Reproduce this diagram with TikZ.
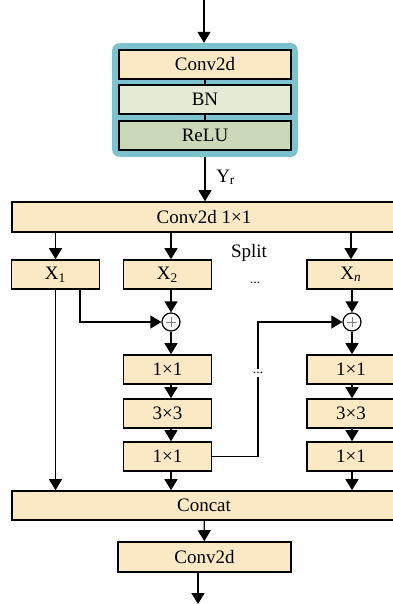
\documentclass[tikz,border=0pt]{standalone}
\usepackage{fontspec}
\setmainfont{Liberation Serif}
\usetikzlibrary{arrows.meta,fit,backgrounds}

\definecolor{boxfill}{HTML}{FBE8C5}
\definecolor{bnfill}{HTML}{E3EAD6}
\definecolor{relufill}{HTML}{CCD9B9}
\definecolor{tealbox}{HTML}{7EC2D0}

\begin{document}
\begin{tikzpicture}[x=0.5pt,y=-0.5pt,
		every node/.style={font=\fontsize{9.5}{11}\selectfont},
		blk/.style={draw, line width=0.8pt, fill=boxfill, minimum height=14.5pt, inner sep=0pt},
		small/.style={blk, minimum width=44pt},
		arr/.style={line width=0.6pt, -{Triangle[width=6.5pt,length=5.5pt]}},
		sum/.style={draw, circle, line width=0.6pt, fill=white, minimum size=9pt, inner sep=0pt}]
	\useasboundingbox (0,0) rectangle (392,604);

	% conv block on top
	\node[blk, minimum width=86pt] (cv) at (205,64.5) {Conv2d};
	\node[blk, minimum width=86pt, fill=bnfill] (bn) at (205,99.5) {BN};
	\node[blk, minimum width=86pt, fill=relufill] (relu) at (205,135.5) {ReLU};
	\begin{scope}[on background layer]
		\node[fit=(cv)(relu), inner sep=3pt, fill=tealbox, rounded corners=3.5pt] (outer) {};
	\end{scope}
	\draw[line width=0.6pt] (cv) -- (bn);
	\draw[line width=0.6pt] (bn) -- (relu);

	% split
	\node[blk, minimum width=192pt, minimum height=15pt] (c11) at (204,217) {Conv2d 1\texttimes1};
	\node[small] (x1) at (55.5,274.5) {X\textsubscript{1}};
	\node[small] (x2) at (167.5,274.5) {X\textsubscript{2}};
	\node[small] (xn) at (351,274.5) {X\textsubscript{\textit{n}}};
	\node (split) at (249,253) {Split};
	\node[font=\fontsize{7}{8}\selectfont] (dots) at (255,283) {...};

	\node[sum] (p2) at (171,322) {};
	\node[sum] (pn) at (352,322) {};
	\foreach \p in {p2,pn}
		\draw[gray, line width=0.4pt] ([xshift=-2.7pt]\p.center) -- ([xshift=2.7pt]\p.center)
			([yshift=-2.7pt]\p.center) -- ([yshift=2.7pt]\p.center);

	% branches
	\node[small] (a2) at (167.5,369.5) {1\texttimes1};
	\node[small] (b2) at (167.5,413.5) {3\texttimes3};
	\node[small] (e2) at (167.5,456.5) {1\texttimes1};
	\node[small] (an) at (351,369.5) {1\texttimes1};
	\node[small] (bn2) at (351,413.5) {3\texttimes3};
	\node[small] (en) at (351,456.5) {1\texttimes1};

	\node[blk, minimum width=192pt] (cat) at (204,505.5) {Concat};
	\node[blk, minimum width=86.5pt, minimum height=15pt] (cv2) at (204.5,557) {Conv2d};

	\coordinate (top) at (204,0);
	\coordinate (out) at (198,604);
	\coordinate (jn) at (258,456.5);

	% connectors
	\draw[arr] (top) -- (top |- outer.north);
	\draw[arr] (outer.south) -- node[right=2pt, pos=0.45] {Y\textsubscript{r}} (outer.south |- c11.north);
	\draw[arr] (x1 |- c11.south) -- (x1);
	\draw[arr] (c11.south -| p2) -- (x2.north -| p2);
	\draw[arr] (xn |- c11.south) -- (xn);

	\draw[arr] (x2.south -| p2) -- (p2);
	\draw[arr] (xn.south -| pn) -- (pn);
	\draw[arr] ([xshift=12.25pt]x1.south) |- (p2);
	\draw[arr] (p2) -- (a2.north -| p2);
	\draw[arr] (pn) -- (an.north -| pn);
	\draw[arr] (a2.south -| p2) -- (b2.north -| p2);
	\draw[arr] (b2.south -| p2) -- (e2.north -| p2);
	\draw[arr] (an.south -| pn) -- (bn2.north -| pn);
	\draw[arr] (bn2.south -| pn) -- (en.north -| pn);
	\draw[arr] (e2.east) -- (jn) -- node[pos=0.62, fill=white, inner sep=1.5pt, font=\fontsize{7}{8}\selectfont] {...} (jn |- pn) -- (pn);

	\draw[arr] (x1) -- (x1 |- cat.north);
	\draw[arr] (e2.south -| p2) -- (cat.north -| p2);
	\draw[arr] (en.south -| pn) -- (cat.north -| pn);
	\draw[arr] (cat) -- (cv2);
	\draw[arr] (cv2.south -| out) -- (out);
\end{tikzpicture}
\end{document}
